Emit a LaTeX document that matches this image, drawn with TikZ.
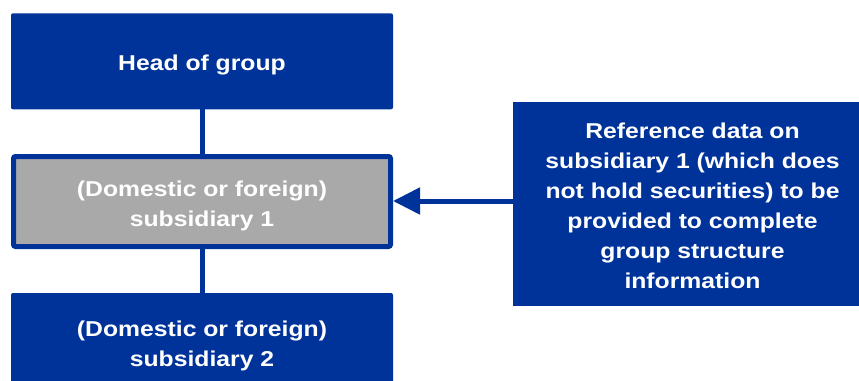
\documentclass[tikz,border=0pt]{standalone}
\usepackage{fontspec}
\setmainfont[FakeStretch=1.15]{Liberation Sans}
\usepackage{tikz}
\usetikzlibrary{arrows.meta}
\definecolor{groupBlue}{RGB}{0,51,153}
\definecolor{groupGrey}{RGB}{169,169,169}

\tikzset{
    entitybox/.style={rectangle, fill=groupBlue, text=white, font=\bfseries\fontsize{21.5}{30}\selectfont,
        align=center, inner sep=0pt, outer sep=0pt, rounded corners=2pt, minimum width=382pt,
        text height=25pt, text depth=6pt},
    twolines/.style={text height=55pt},
    greybox/.style={entitybox, twolines, fill=groupGrey, draw=groupBlue, line width=5pt, outer sep=2.5pt,
        minimum width=377pt},
    link/.style={draw=groupBlue, line width=5pt}
}

\begin{document}
\begin{tikzpicture}[x=1pt, y=-1pt]
    \useasboundingbox (0,0) rectangle (859,380);

    % Head of group
    \node[entitybox, minimum height=96pt] (head) at (202,61.3) {Head of group};

    % Subsidiary 1 (grey)
    \node[greybox, minimum height=90pt] (sub1) at (202,201.5) {(Domestic or foreign)\\subsidiary 1};

    % Subsidiary 2 (cut off at the bottom)
    \node[entitybox, twolines, minimum height=98pt] (sub2) at (202,342) {(Domestic or foreign)\\subsidiary 2};

    % Reference data box (cut off at the right)
    \node[entitybox, text height=175pt, rounded corners=0pt, minimum width=359pt, minimum height=204pt] (refdata) at (692.5,204)
        {Reference data on\\subsidiary 1 (which does\\not hold securities) to be\\provided to complete\\group structure\\information};

    % Connectors
    \draw[link] (head) -- (sub1);
    \draw[link] (sub1) -- (sub2);
    \draw[link, -{Triangle[length=27pt, width=26pt]}] ([yshift=3]refdata.west) -- ([yshift=3]refdata.west -| sub1.east);
\end{tikzpicture}
\end{document}
